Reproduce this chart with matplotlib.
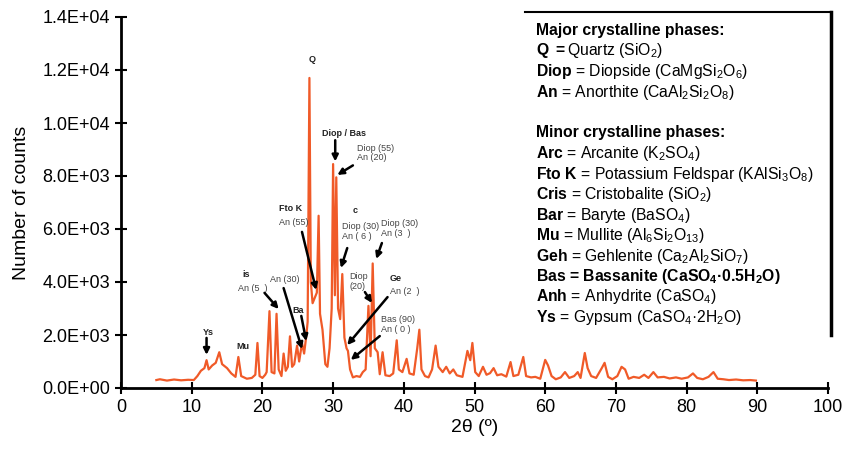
import numpy as np
import matplotlib.pyplot as plt
from matplotlib.ticker import FuncFormatter, MultipleLocator
from matplotlib.lines import Line2D

plt.rcParams['font.family'] = ['Liberation Sans', 'DejaVu Sans']
plt.rcParams['mathtext.fontset'] = 'custom'
plt.rcParams['mathtext.rm'] = 'Liberation Sans'
plt.rcParams['mathtext.bf'] = 'Liberation Sans:bold'
plt.rcParams['mathtext.it'] = 'Liberation Sans:italic'

# diffractogram (2theta in degrees, counts)
two_theta = [5.0, 5.5, 6.5, 7.5, 8.5, 9.5, 10.3, 10.8, 11.3, 11.8, 12.1, 12.4, 12.9, 13.4,
             13.9, 14.3, 15.0, 15.6, 16.2, 16.6, 17.0, 17.8, 18.5, 19.0, 19.3, 19.6, 20.0,
             20.4, 20.6, 21.0, 21.3, 21.7, 22.0, 22.3, 22.7, 23.0, 23.3, 23.6, 23.9, 24.2,
             24.5, 24.9, 25.2, 25.6, 25.9, 26.2, 26.4, 26.65, 26.85, 27.1, 27.4, 27.7, 27.95,
             28.15, 28.5, 28.9, 29.2, 29.5, 29.8, 30.0, 30.25, 30.45, 30.7, 31.0, 31.3, 31.6,
             31.9, 32.1, 32.4, 32.8, 33.3, 33.8, 34.2, 34.6, 35.0, 35.3, 35.6, 35.9, 36.3,
             36.6, 37.0, 37.4, 38.0, 38.5, 39.0, 39.3, 39.8, 40.4, 40.8, 41.4, 41.9, 42.2,
             42.5, 43.0, 43.5, 44.0, 44.5, 44.9, 45.5, 46.0, 46.5, 47.0, 47.5, 48.3, 49.0,
             49.4, 49.7, 50.1, 50.6, 51.2, 51.7, 52.2, 52.7, 53.2, 53.8, 54.5, 55.1, 55.5,
             56.2, 56.9, 57.3, 58.0, 58.6, 59.3, 60.0, 60.4, 60.9, 61.5, 62.2, 62.8, 63.4,
             64.1, 64.6, 65.0, 65.6, 66.0, 66.5, 67.2, 68.0, 68.4, 68.9, 69.5, 70.2, 70.8,
             71.3, 71.8, 72.5, 73.3, 74.0, 74.6, 75.3, 75.9, 76.8, 77.6, 78.5, 79.3, 80.2,
             80.9, 81.5, 82.3, 83.1, 83.8, 84.4, 85.2, 86.0, 87.0, 88.0, 89.0, 89.8]
counts = [300, 330, 280, 320, 290, 310, 300, 450, 650, 750, 1050, 700, 850, 950,
          1350, 900, 750, 550, 420, 1170, 450, 350, 380, 500, 1700, 450, 380,
          500, 600, 2900, 600, 550, 2800, 700, 450, 1300, 650, 800, 1950, 800,
          900, 1600, 1000, 1700, 1300, 1950, 2500, 11700, 4000, 3200, 3400, 3600, 6500,
          2800, 2200, 900, 800, 1500, 3000, 8450, 3500, 7950, 3000, 2600, 4300, 1900,
          1500, 1400, 700, 400, 450, 420, 600, 700, 3100, 1200, 4700, 1500, 1350,
          520, 1350, 480, 450, 550, 1800, 700, 600, 1100, 550, 500, 1500, 2200,
          700, 450, 400, 700, 1600, 800, 600, 800, 550, 700, 480, 420, 1400,
          1050, 1700, 600, 450, 800, 500, 560, 750, 480, 520, 430, 980, 450,
          500, 1170, 450, 400, 420, 350, 1060, 850, 450, 330, 400, 600, 380,
          450, 600, 380, 1320, 750, 450, 380, 750, 950, 420, 330, 450, 800,
          700, 350, 420, 380, 500, 380, 600, 400, 420, 360, 400, 350, 400,
          550, 380, 330, 420, 600, 350, 330, 300, 320, 290, 300, 280]

# peak labels
bold_labels = [("Q", 27.0, 12380, 'center'), ("Diop / Bas", 31.5, 9620, 'center'),
               ("Fto K", 22.4, 6790, 'left'), ("c", 33.1, 6680, 'center'),
               ("Ge", 38.0, 4150, 'left'), ("is", 17.7, 4300, 'center'),
               ("Ba", 24.2, 2940, 'left'), ("Ys", 12.3, 2110, 'center'),
               ("Mu", 17.2, 1550, 'center')]
gray_labels = [("Diop (55)\nAn (20)", 33.4, 8870), ("An (55)", 22.4, 6260),
               ("Diop (30)\nAn ( 6 )", 31.3, 5900), ("Diop (30)\nAn (3  )", 36.8, 6010),
               ("Diop\n(20)", 32.3, 4010), ("An (2  )", 38.0, 3660),
               ("Bas (90)\nAn ( 0 )", 36.8, 2400), ("An (5  )", 16.6, 3770),
               ("An (30)", 21.1, 4080)]
arrows = [(30.3, 9350, 30.3, 8550), (32.8, 8400, 30.6, 8040), (25.6, 5890, 27.6, 3700),
          (32.0, 5280, 31.1, 4530), (36.9, 5470, 36.1, 4870), (34.5, 3620, 35.5, 3210),
          (37.7, 3430, 32.0, 1620), (36.6, 1960, 32.5, 1060), (20.3, 3590, 22.3, 2980),
          (23.0, 3770, 25.6, 1470), (25.5, 2720, 26.2, 1770), (12.1, 1890, 12.1, 1250)]

legend_lines = [
    ("Major crystalline phases:", 'bold'),
    (r"$\mathbf{Q\ {=}}$Quartz (SiO$_2$)", 'normal'),
    (r"$\mathbf{Diop}$ = Diopside (CaMgSi$_2$O$_6$)", 'normal'),
    (r"$\mathbf{An}$ = Anorthite (CaAl$_2$Si$_2$O$_8$)", 'normal'),
    ("", 'normal'),
    ("Minor crystalline phases:", 'bold'),
    (r"$\mathbf{Arc}$ = Arcanite (K$_2$SO$_4$)", 'normal'),
    (r"$\mathbf{Fto\ K}$ = Potassium Feldspar (KAlSi$_3$O$_8$)", 'normal'),
    (r"$\mathbf{Cris}$ = Cristobalite (SiO$_2$)", 'normal'),
    (r"$\mathbf{Bar}$ = Baryte (BaSO$_4$)", 'normal'),
    (r"$\mathbf{Mu}$ = Mullite (Al$_6$Si$_2$O$_{13}$)", 'normal'),
    (r"$\mathbf{Geh}$ = Gehlenite (Ca$_2$Al$_2$SiO$_7$)", 'normal'),
    (r"Bas = Bassanite (CaSO$_\mathbf{4}$·0.5H$_\mathbf{2}$O)", 'bold'),
    (r"$\mathbf{Anh}$ = Anhydrite (CaSO$_4$)", 'normal'),
    (r"$\mathbf{Ys}$ = Gypsum (CaSO$_4$·2H$_2$O)", 'normal'),
]

W, H = 842, 454
fig = plt.figure(figsize=(W / 100, H / 100), dpi=100)
ax = fig.add_axes([121 / W, 1 - 388 / H, (828 - 121) / W, (388 - 17) / H])

ax.plot(two_theta, counts, color='#F05A28', lw=1.6)

for txt, x, y, ha in bold_labels:
    ax.text(x, y, txt, fontsize=6.5, fontweight='bold', color='#222222', ha=ha, va='center')
for txt, x, y in gray_labels:
    ax.text(x, y, txt, fontsize=6.5, color='#444444', ha='left', va='center', linespacing=1.1)
for x0, y0, x1, y1 in arrows:
    ax.annotate("", xy=(x1, y1), xytext=(x0, y0),
                arrowprops=dict(arrowstyle='-|>', color='black', lw=1.8, mutation_scale=9,
                                shrinkA=0, shrinkB=0))

ax.set_xlim(0, 100)
ax.set_ylim(0, 14000)
ax.xaxis.set_major_locator(MultipleLocator(10))
ax.yaxis.set_major_locator(MultipleLocator(2000))
ax.yaxis.set_major_formatter(FuncFormatter(lambda v, p: f"{v:.1E}"))
ax.tick_params(direction='inout', length=9, width=1.5, labelsize=13)
for s in ['top', 'right']:
    ax.spines[s].set_visible(False)
for s in ['left', 'bottom']:
    ax.spines[s].set_linewidth(2)
ax.set_xlabel("2θ (º)", fontsize=14, labelpad=2)
ax.set_ylabel("Number of counts", fontsize=14, labelpad=9)

for i, (line, weight) in enumerate(legend_lines):
    py = 30 + i * 20.5 + 5
    fig.text(536 / W, 1 - py / H, line, fontsize=11.3, fontweight=weight, color='black',
             va='baseline', ha='left')

# legend box edges (top and right)
fig.add_artist(Line2D([525 / W, 831 / W], [1 - 12 / H, 1 - 12 / H], color='black', lw=1.5))
fig.add_artist(Line2D([831 / W, 831 / W], [1 - 12 / H, 1 - 335 / H], color='black', lw=2.5))

fig.savefig("out.png", dpi=100)
